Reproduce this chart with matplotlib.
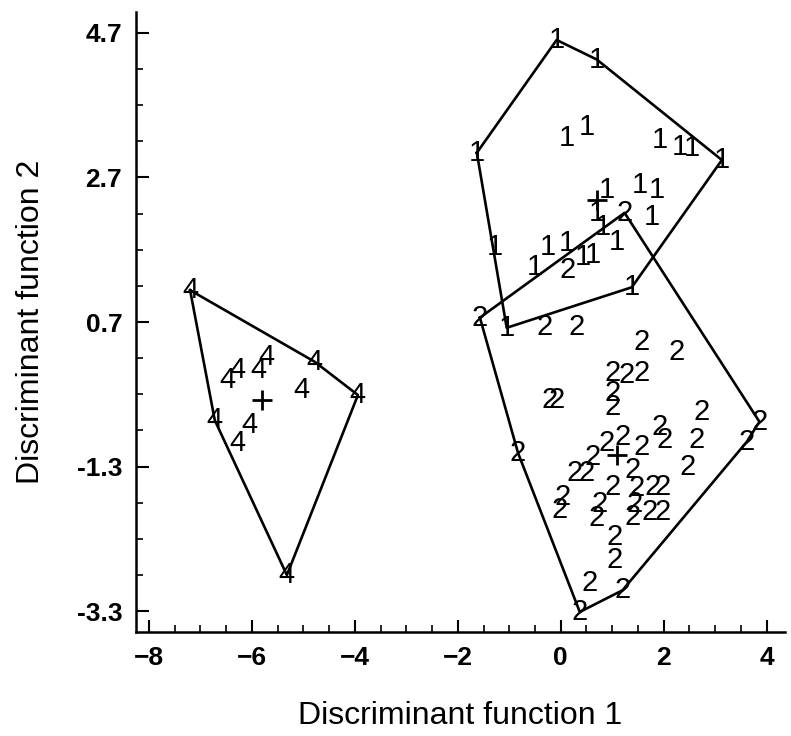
import numpy as np
import matplotlib
matplotlib.use('Agg')
import matplotlib.pyplot as plt
from matplotlib.ticker import MultipleLocator, FixedLocator

plt.rcParams['font.family'] = ['Liberation Sans', 'DejaVu Sans']

# Discriminant scores
g1_x = [-0.08, 0.70, 3.13, 1.38, -1.05, -1.28, -1.63, 0.12, 0.50, 1.92, 2.31, 2.54,
        1.53, 1.86, 1.77, 0.89, 0.70, 0.82, 1.09, -0.25, 0.12, -0.50, 0.43, 0.62]
g1_y = [4.60, 4.33, 2.94, 1.18, 0.62, 1.74, 3.04, 3.25, 3.39, 3.22, 3.12, 3.11,
        2.60, 2.53, 2.15, 2.53, 2.21, 2.01, 1.81, 1.74, 1.79, 1.46, 1.60, 1.63]

g2_x = [-1.57, -0.31, 0.31, 1.24, 0.14, 1.57, 2.25, 1.01, 1.28, 1.57, -0.21, -0.08,
        1.01, 1.01, 2.74, 1.92, 2.02, 2.64, 2.47, 3.86, 3.61, -0.83, 0.89, 1.20,
        1.57, 0.62, 1.40, 0.27, 0.50, 0.04, -0.02, 1.01, 0.76, 0.70, 1.48, 1.79,
        1.98, 1.44, 1.40, 1.73, 1.98, 1.05, 1.05, 0.56, 1.20, 0.37]
g2_y = [0.76, 0.63, 0.63, 2.21, 1.42, 0.42, 0.28, -0.01, -0.03, -0.01, -0.38, -0.38,
        -0.28, -0.48, -0.55, -0.75, -0.93, -0.93, -1.31, -0.68, -0.96, -1.11, -0.97, -0.89,
        -1.03, -1.17, -1.35, -1.39, -1.39, -1.72, -1.90, -1.58, -1.81, -2.01, -1.60, -1.58,
        -1.58, -1.81, -2.00, -1.93, -1.93, -2.28, -2.59, -2.91, -3.01, -3.31]

g4_x = [-7.20, -4.78, -3.94, -5.32, -6.29, -6.72, -6.47, -6.29, -5.88, -5.71, -5.03, -6.04]
g4_y = [1.14, 0.15, -0.31, -2.80, -0.97, -0.66, -0.10, 0.04, 0.04, 0.22, -0.24, -0.73]

# group centroids (plotted as +)
cent_x = [0.70, 1.09, -5.81]
cent_y = [2.39, -1.14, -0.38]

groups = [('1', g1_x, g1_y), ('2', g2_x, g2_y), ('4', g4_x, g4_y)]


def hull(xs, ys):
    pts = sorted(zip(xs, ys))

    def cross(o, a, b):
        return (a[0] - o[0]) * (b[1] - o[1]) - (a[1] - o[1]) * (b[0] - o[0])

    lower = []
    for p in pts:
        while len(lower) >= 2 and cross(lower[-2], lower[-1], p) <= 0:
            lower.pop()
        lower.append(p)
    upper = []
    for p in reversed(pts):
        while len(upper) >= 2 and cross(upper[-2], upper[-1], p) <= 0:
            upper.pop()
        upper.append(p)
    h = lower[:-1] + upper[:-1]
    h.append(h[0])
    return np.array(h)


fig = plt.figure(figsize=(7.91, 7.36), dpi=100)
ax = fig.add_axes([0.172, 0.141, 0.82, 0.843])

for label, xs, ys in groups:
    h = hull(xs, ys)
    ax.plot(h[:, 0], h[:, 1], color='black', lw=1.9, zorder=1)
    for x, y in zip(xs, ys):
        ax.text(x, y, label, ha='center', va='center', fontsize=21, color='black', zorder=2)

ax.plot(cent_x, cent_y, '+', color='black', ms=14, mew=2.0, zorder=3)

ax.set_xlim(-8.25, 4.35)
ax.set_ylim(-3.59, 4.99)

ax.xaxis.set_major_locator(FixedLocator([-8, -6, -4, -2, 0, 2, 4]))
ax.xaxis.set_minor_locator(MultipleLocator(0.5))
ax.yaxis.set_major_locator(FixedLocator([-3.3, -1.3, 0.7, 2.7, 4.7]))
ax.yaxis.set_minor_locator(FixedLocator(np.arange(-3.3, 5.0, 0.5)))
ax.set_yticklabels(['-3.3', '-1.3', '0.7', '2.7', '4.7'])

ax.tick_params(which='major', direction='in', length=9, width=1.5, labelsize=19, pad=10)
ax.tick_params(which='minor', direction='in', length=5, width=1.2)
for t in ax.get_xticklabels() + ax.get_yticklabels():
    t.set_fontweight('bold')

for s in ['top', 'right']:
    ax.spines[s].set_visible(False)
for s in ['left', 'bottom']:
    ax.spines[s].set_linewidth(1.8)

ax.set_xlabel('Discriminant function 1', fontsize=23, labelpad=22)
ax.set_ylabel('Discriminant function 2', fontsize=23, labelpad=22)

fig.savefig('out.png', dpi=100)
